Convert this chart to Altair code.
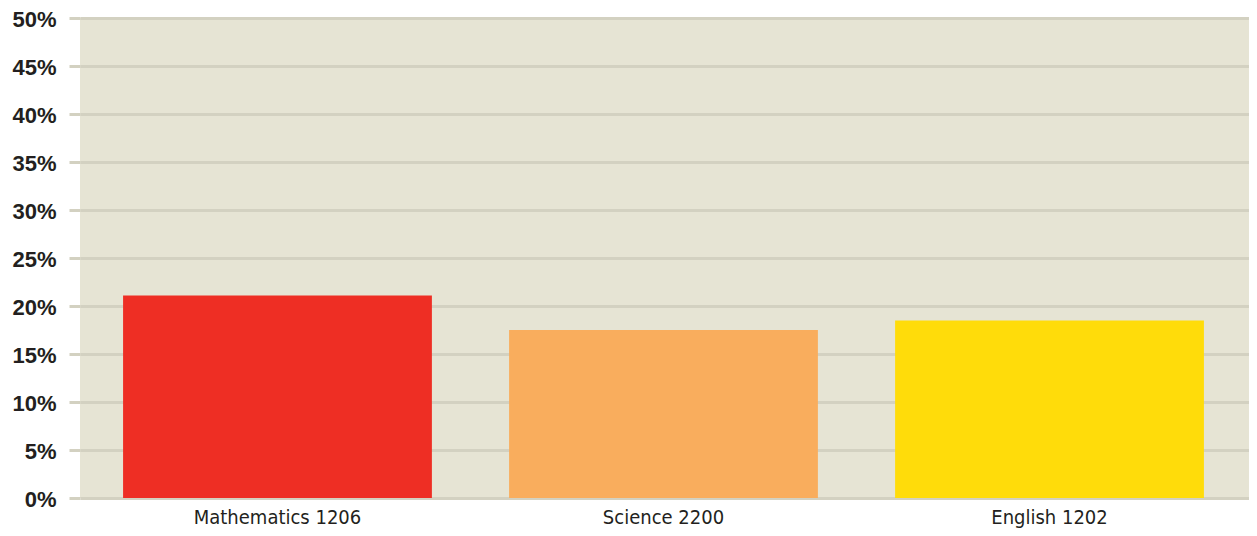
import altair as alt
import pandas as pd

subjects = ["Mathematics 1206", "Science 2200", "English 1202"]
shares = [21.1, 17.5, 18.5]
colors = ["#ee2e24", "#f9ad5d", "#ffdc0a"]

df = pd.DataFrame({"subject": subjects, "share": shares})

chart = alt.Chart(df).mark_bar().encode(
    x=alt.X("subject:N", sort=subjects, title=None,
            scale=alt.Scale(paddingInner=0.2, paddingOuter=0.1142, align=0.4886),
            axis=alt.Axis(labelAngle=0, domain=False, ticks=False, labelPadding=9,
                          labelFont="DejaVu Sans Condensed, Liberation Sans", labelFontSize=20,
                          labelColor="#231f20")),
    y=alt.Y("share:Q", title=None,
            scale=alt.Scale(domain=[0, 50], nice=False),
            axis=alt.Axis(values=list(range(0, 55, 5)), labelExpr="datum.value + '%'",
                          domain=False, ticks=True, tickSize=11, tickWidth=3,
                          tickColor="#d3d1c1", gridColor="#d3d1c1", gridWidth=3,
                          labelPadding=13, labelFont="Liberation Sans", labelFontSize=22,
                          labelFontWeight="bold", labelColor="#231f20", labelBaseline="middle",
                          labelOffset=1)),
    color=alt.Color("subject:N", sort=subjects,
                    scale=alt.Scale(domain=subjects, range=colors), legend=None),
).properties(
    width=1169, height=480,
    autosize=alt.AutoSizeParams(type="none"),
    padding={"left": 72, "top": 10, "right": 0, "bottom": 30},
).configure(
    background="white"
).configure_view(
    fill="#e6e4d4", stroke=None
)

chart.save("out.html", embed_options={"renderer": "svg", "actions": False})
